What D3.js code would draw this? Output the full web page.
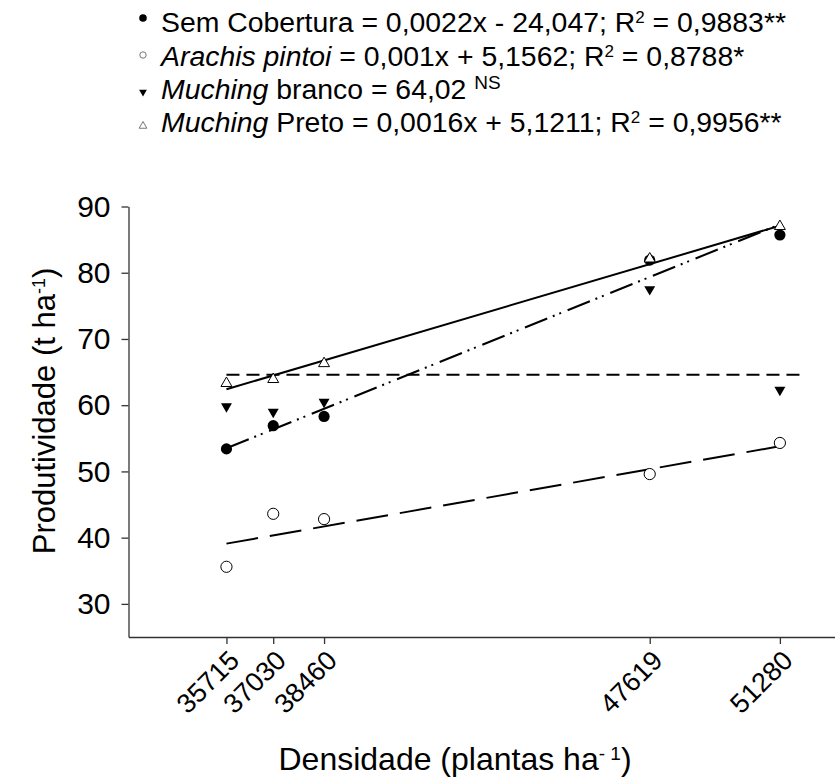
<!DOCTYPE html>
<html>
<head>
<meta charset="utf-8">
<script src="https://cdn.jsdelivr.net/npm/d3@7"></script>
<style>
  body { margin: 0; background: #fff; }
  svg { font-family: "Liberation Sans", Arial, sans-serif; }
</style>
</head>
<body>
<div id="chart"></div>
<script>
// densities (plantas/ha)
const densidades = [35715, 37030, 38460, 47619, 51280];
const tickLabels = ["35715", "37030", "38460", "47619", "51280"];

// yields (t/ha)
const semCobertura = [53.4, 56.9, 58.3, 81.9, 85.7];
const arachis = [35.6, 43.6, 42.8, 49.6, 54.3];
const muchingBranco = [59.8, 59.0, 60.5, 77.5, 62.3];
const muchingPreto = [63.3, 63.9, 66.3, 82.1, 87.0];

// fitted lines, endpoints
const fitSem = [[35715, 53.5], [51280, 87.3]];
const fitArachis = [[35715, 39.1], [51280, 53.8]];
const fitBranco = [[35715, 64.6], [51840, 64.6]];
const fitPreto = [[35715, 62.4], [51280, 87.1]];

const yTicks = [30, 40, 50, 60, 70, 80, 90];

const width = 835, height = 782;

const svg = d3.select("#chart")
  .append("svg")
  .attr("width", width)
  .attr("height", height);

// scales
const x = d3.scaleLinear().domain([32960, 52830]).range([128.5, 835]);
const y = d3.scaleLinear().domain([25, 90]).range([637, 206.5]);

// y axis
const yAxis = svg.append("g")
  .attr("transform", "translate(128.5,0)")
  .call(d3.axisLeft(y).tickValues(yTicks).tickSize(7).tickSizeOuter(0).tickPadding(11));
yAxis.selectAll("text").attr("font-size", 30).attr("fill", "#000");
yAxis.selectAll("line,path").attr("stroke", "#333").attr("stroke-width", 1.3);

// x axis
const xAxis = svg.append("g")
  .attr("transform", "translate(0,637)")
  .call(d3.axisBottom(x).tickValues(densidades).tickFormat((d, i) => tickLabels[i]).tickSize(7).tickSizeOuter(0));
xAxis.selectAll("line,path").attr("stroke", "#333").attr("stroke-width", 1.3);
xAxis.selectAll("text")
  .attr("font-size", 27)
  .attr("fill", "#000")
  .attr("text-anchor", "end")
  .attr("dy", null)
  .attr("y", 0)
  .attr("transform", "translate(14,25) rotate(-45)");

// fitted lines
const line = d3.line().x(d => x(d[0])).y(d => y(d[1]));

const fits = [
  { data: fitPreto, dash: null },
  { data: fitBranco, dash: "13,7" },
  { data: fitSem, dash: "24,6,2,5,2,7" },
  { data: fitArachis, dash: "32,12" }
];
svg.selectAll(".fit")
  .data(fits)
  .enter()
  .append("path")
  .attr("class", "fit")
  .attr("d", d => line(d.data))
  .attr("fill", "none")
  .attr("stroke", "#000")
  .attr("stroke-width", 2)
  .attr("stroke-dasharray", d => d.dash);

// markers
const tri = d3.symbol().type(d3.symbolTriangle).size(52);

function pts(vals) {
  return vals.map((v, i) => [densidades[i], v]);
}

svg.selectAll(".sem")
  .data(pts(semCobertura))
  .enter()
  .append("circle")
  .attr("cx", d => x(d[0]))
  .attr("cy", d => y(d[1]))
  .attr("r", 5.6)
  .attr("fill", "#000");

svg.selectAll(".ara")
  .data(pts(arachis))
  .enter()
  .append("circle")
  .attr("cx", d => x(d[0]))
  .attr("cy", d => y(d[1]))
  .attr("r", 5.6)
  .attr("fill", "#fff")
  .attr("stroke", "#000")
  .attr("stroke-width", 1);

svg.selectAll(".bra")
  .data(pts(muchingBranco))
  .enter()
  .append("path")
  .attr("d", tri)
  .attr("transform", d => `translate(${x(d[0])},${y(d[1])}) rotate(180)`)
  .attr("fill", "#000");

svg.selectAll(".pre")
  .data(pts(muchingPreto))
  .enter()
  .append("path")
  .attr("d", tri)
  .attr("transform", d => `translate(${x(d[0])},${y(d[1])})`)
  .attr("fill", "#fff")
  .attr("stroke", "#000")
  .attr("stroke-width", 1);

// axis titles
svg.append("text")
  .attr("transform", "translate(55,411) rotate(-90)")
  .attr("text-anchor", "middle")
  .attr("font-size", 31)
  .html('Produtividade (t ha<tspan baseline-shift="super" font-size="18">-1</tspan>)');

svg.append("text")
  .attr("x", 455)
  .attr("y", 770)
  .attr("text-anchor", "middle")
  .attr("font-size", 32)
  .html('Densidade (plantas ha<tspan baseline-shift="super" font-size="19">- 1</tspan>)');

// legend
const legend = svg.append("g");
const rows = [
  { y: 32, html: 'Sem Cobertura = 0,0022x - 24,047; R<tspan baseline-shift="super" font-size="17">2</tspan> = 0,9883**' },
  { y: 66, html: '<tspan font-style="italic">Arachis pintoi</tspan> = 0,001x + 5,1562; R<tspan baseline-shift="super" font-size="17">2</tspan> = 0,8788*' },
  { y: 99, html: '<tspan font-style="italic">Muching</tspan> branco = 64,02 <tspan baseline-shift="super" font-size="19">NS</tspan>' },
  { y: 132, html: '<tspan font-style="italic">Muching</tspan> Preto = 0,0016x + 5,1211; R<tspan baseline-shift="super" font-size="17">2</tspan> = 0,9956**' }
];
legend.selectAll("text")
  .data(rows)
  .enter()
  .append("text")
  .attr("x", 161)
  .attr("y", d => d.y)
  .attr("font-size", 28.4)
  .html(d => d.html);

legend.append("circle").attr("cx", 143).attr("cy", 18).attr("r", 3.8).attr("fill", "#000");
legend.append("circle").attr("cx", 143).attr("cy", 55).attr("r", 3.2).attr("fill", "#fff").attr("stroke", "#777");
legend.append("path").attr("d", d3.symbol().type(d3.symbolTriangle).size(26))
  .attr("transform", "translate(143,92) rotate(180)").attr("fill", "#000");
legend.append("path").attr("d", d3.symbol().type(d3.symbolTriangle).size(26))
  .attr("transform", "translate(143,126)").attr("fill", "#fff").attr("stroke", "#777");
</script>
</body>
</html>
